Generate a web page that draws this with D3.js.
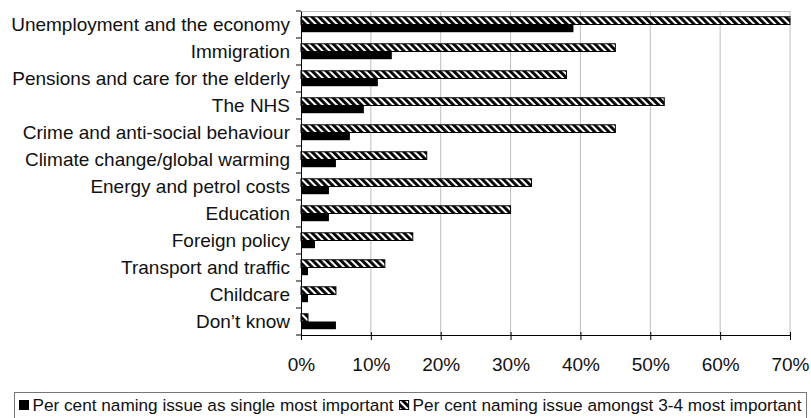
<!DOCTYPE html>
<html>

<head>
    <style>
        body { margin: 0; background: #fff; }
        text { font-family: "Liberation Sans", Arial, sans-serif; fill: #111; }
    </style>
</head>

<body>
    <script src="https://d3js.org/d3.v7.min.js"></script>
    <div id="chart"></div>
    <script>
        const width = 811
        const height = 418
        const margin = { top: 11, right: 21, bottom: 83, left: 301 }

        const categories = ["Unemployment and the economy", "Immigration", "Pensions and care for the elderly",
            "The NHS", "Crime and anti-social behaviour", "Climate change/global warming",
            "Energy and petrol costs", "Education", "Foreign policy", "Transport and traffic",
            "Childcare", "Don\u2019t know"]
        // per cent naming issue as single most important
        const singleValues = [39, 13, 11, 9, 7, 5, 4, 4, 2, 1, 1, 5]
        // per cent naming issue amongst 3-4 most important
        const multiValues = [70, 45, 38, 52, 45, 18, 33, 30, 16, 12, 5, 1]
        const xTicks = [0, 0.1, 0.2, 0.3, 0.4, 0.5, 0.6, 0.7]
        const legendLabels = ["Per cent naming issue as single most important", "Per cent naming issue amongst 3-4 most important"]

        const svg = d3.select("#chart").append("svg").attr("width", width).attr("height", height)

        const defs = svg.append("defs")
        const hatch = defs.append("pattern")
            .attr("id", "hatch")
            .attr("patternUnits", "userSpaceOnUse")
            .attr("width", 5)
            .attr("height", 10)
            .attr("patternTransform", "rotate(-45)")
        hatch.append("rect").attr("width", 5).attr("height", 10).attr("fill", "#fff")
        hatch.append("rect").attr("width", 2.9).attr("height", 10).attr("fill", "#000")

        const x = d3.scaleLinear().domain([0, 0.7]).range([margin.left, width - margin.right])
        const y = d3.scaleBand().domain(categories).range([margin.top, height - margin.bottom])
        const ySub = d3.scaleBand().domain(["multi", "single"]).range([0, y.bandwidth()]).paddingOuter(0.75)

        // grid
        svg.append("g")
            .selectAll("line")
            .data(xTicks.slice(1))
            .enter()
            .append("line")
            .attr("x1", d => x(d)).attr("x2", d => x(d))
            .attr("y1", margin.top).attr("y2", height - margin.bottom)
            .attr("stroke", "#bdbdbd")
        svg.append("line")
            .attr("x1", x(0)).attr("x2", x(0.7))
            .attr("y1", margin.top + 0.5).attr("y2", margin.top + 0.5)
            .attr("stroke", "#bdbdbd")

        const rows = svg.append("g")
            .selectAll("g")
            .data(categories)
            .enter()
            .append("g")
            .attr("transform", d => "translate(0," + y(d) + ")")

        rows.append("rect")
            .attr("x", x(0))
            .attr("y", ySub("multi"))
            .attr("width", (d, i) => x(multiValues[i] / 100) - x(0))
            .attr("height", ySub.bandwidth())
            .attr("fill", "url(#hatch)")
            .attr("stroke", "#000")
            .attr("stroke-width", 1)

        rows.append("rect")
            .attr("x", x(0))
            .attr("y", ySub("single"))
            .attr("width", (d, i) => x(singleValues[i] / 100) - x(0))
            .attr("height", ySub.bandwidth())
            .attr("fill", "#000")

        // y axis
        const yAxis = svg.append("g")
            .attr("transform", "translate(" + x(0) + ",0)")
            .call(d3.axisLeft(y).tickSize(0).tickPadding(11))
        yAxis.select(".domain").attr("stroke", "#000")
        yAxis.selectAll("text").style("font-size", "19px").attr("fill", "#111")
        yAxis.selectAll(".edge")
            .data(d3.range(categories.length + 1))
            .enter()
            .append("line")
            .attr("class", "edge")
            .attr("x1", -5).attr("x2", 0)
            .attr("y1", d => margin.top + d * y.step()).attr("y2", d => margin.top + d * y.step())
            .attr("stroke", "#000")

        // x axis
        const xAxis = svg.append("g")
            .attr("transform", "translate(0," + (height - margin.bottom) + ")")
            .call(d3.axisBottom(x).tickValues(xTicks).tickFormat(d3.format(".0%")).tickSizeInner(5).tickSizeOuter(0).tickPadding(18))
        xAxis.selectAll(".tick line").attr("y1", -3)
        xAxis.selectAll("text").style("font-size", "19px").attr("fill", "#111")

        // legend
        const legend = svg.append("g").attr("transform", "translate(14.5,392.5)")
        legend.append("rect")
            .attr("width", 792)
            .attr("height", 30)
            .attr("fill", "none")
            .attr("stroke", "#777")
        const items = legend.selectAll(".item")
            .data(legendLabels)
            .enter()
            .append("g")
            .attr("class", "item")
        items.append("rect")
            .attr("y", 8)
            .attr("width", 9).attr("height", 9)
            .attr("fill", (d, i) => i === 0 ? "#000" : "url(#hatch)")
            .attr("stroke", "#000")
        items.append("text")
            .attr("x", 13)
            .attr("y", 18)
            .style("font-size", "17.2px")
            .text(d => d)
        // lay items out one after another
        let offset = 5
        items.each(function () {
            const g = d3.select(this)
            g.attr("transform", "translate(" + offset + ",0)")
            offset += 13 + g.select("text").node().getComputedTextLength() + 6
        })
    </script>
</body>

</html>
